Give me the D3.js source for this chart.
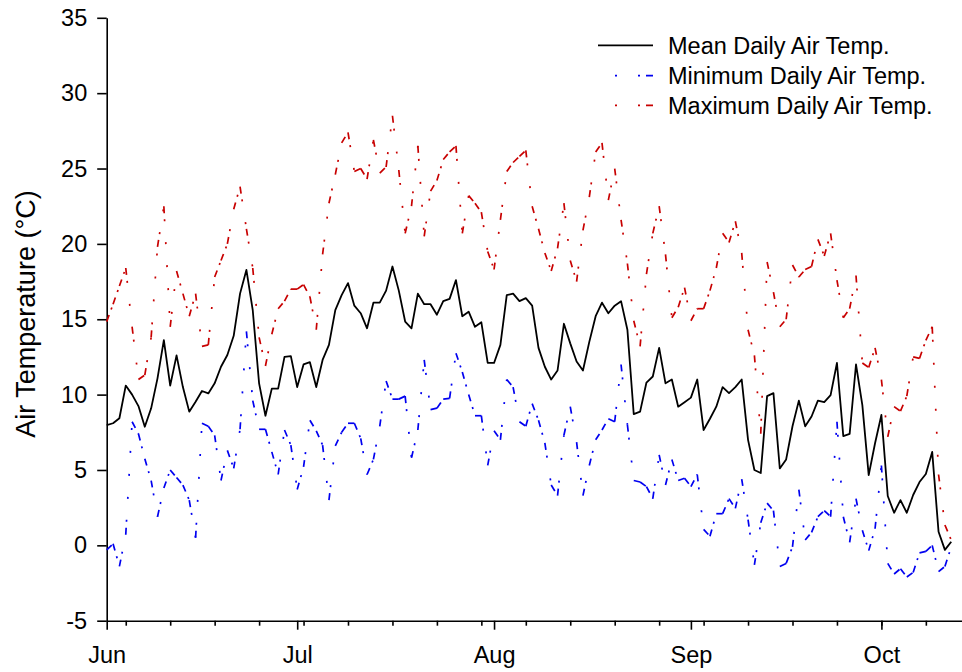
<!DOCTYPE html>
<html><head><meta charset="utf-8">
<script src="https://cdn.jsdelivr.net/npm/d3@7"></script>
<style>
body{margin:0;background:#fff}
svg{display:block}
text{font-family:"Liberation Sans",Arial,sans-serif;fill:#000}
</style>
</head><body>
<svg id="chart" width="962" height="672"></svg>
<script>
// ---- data (daily values from 1 June) ----
const startDate = [2006, 5, 1];
const meanTemp = [7.98,8.1,8.43,10.6,10.0,9.24,7.87,9.09,11.08,13.62,10.6,12.6,10.5,8.87,9.53,10.24,10.08,10.75,11.85,12.63,13.9,16.7,18.27,15.6,10.75,8.6,10.4,10.4,12.5,12.55,
10.5,12.0,12.15,10.5,12.3,13.3,15.6,16.6,17.4,15.9,15.4,14.4,16.1,16.1,16.9,18.5,16.9,14.85,14.4,16.7,16.0,16.0,15.3,16.2,16.35,17.6,15.2,15.5,14.5,14.8,12.1,
12.1,13.3,16.6,16.7,16.2,16.4,15.9,13.1,11.85,11.0,11.6,14.7,13.4,12.2,11.6,13.5,15.2,16.1,15.4,15.9,16.2,14.3,8.7,8.87,10.8,11.2,13.1,10.75,11.0,9.2,9.5,9.8,
11.0,7.65,8.4,9.2,10.5,10.1,10.5,11.0,7.0,5.0,4.8,9.9,10.1,5.1,5.7,7.9,9.6,7.9,8.55,9.6,9.5,9.97,12.1,7.25,7.4,12.0,9.3,4.66,6.77,
8.65,3.27,2.16,3.0,2.16,3.34,4.2,4.73,6.2,0.9,-0.3,0.24];
const minTemp = [-0.3,0.1,-1.4,0.7,8.2,7.4,5.75,4.3,1.9,3.8,5.0,4.5,4.0,3.0,0.5,8.1,7.9,7.3,4.3,6.3,5.1,7.7,14.2,9.6,7.7,7.7,6.2,4.7,7.65,6.65,
3.7,5.2,8.3,7.6,6.65,3.0,6.6,7.5,8.1,8.1,7.1,4.7,5.7,7.9,10.9,9.7,9.7,9.9,5.8,7.65,12.3,9.0,9.1,9.7,9.75,12.75,11.5,10.0,8.6,8.6,5.3,
7.6,7.0,11.0,10.5,8.2,7.9,9.4,8.3,6.8,4.0,3.3,7.3,9.2,6.85,3.3,5.3,7.0,7.65,8.4,8.2,12.0,8.0,4.3,4.2,3.9,3.1,6.0,4.0,5.7,4.3,4.45,3.9,
4.7,1.06,0.6,2.1,2.1,3.1,2.45,4.4,1.7,-1.3,1.5,2.8,2.3,-1.4,-1.2,-0.1,3.7,0.35,0.86,1.9,2.3,1.9,8.2,1.9,0.2,3.1,1.0,-0.35,1.1,
5.3,-1.2,-1.9,-1.55,-2.1,-1.8,-0.5,-0.4,0.0,-1.75,-1.4,-0.1];
const maxTemp = [14.84,16.0,17.2,18.4,14.5,11.0,11.3,13.8,19.8,22.5,14.5,18.2,16.7,15.2,16.7,13.2,13.3,17.8,18.9,20.0,22.3,23.8,21.0,18.4,13.8,11.9,14.0,15.7,16.2,17.0,
17.0,17.3,16.5,14.3,19.3,22.7,24.6,26.7,27.4,24.8,25.0,24.3,26.9,24.7,25.1,28.5,24.9,20.7,22.5,26.5,20.5,23.5,24.2,25.6,26.1,26.5,20.7,23.2,22.7,22.1,19.5,
18.3,21.6,24.8,25.4,25.8,26.2,22.5,21.0,19.4,18.2,19.7,22.7,18.9,17.5,20.9,23.1,26.1,26.7,22.9,25.0,21.6,18.7,14.9,13.2,18.0,20.7,22.5,19.3,15.1,15.8,17.1,14.9,
15.7,15.7,16.9,18.4,20.7,20.1,21.5,19.4,14.3,12.6,7.4,18.8,16.8,14.5,15.0,18.6,17.8,18.3,18.5,20.3,19.2,20.7,17.6,15.1,15.7,17.9,12.1,11.8,13.1,
11.0,7.2,9.2,8.9,9.9,12.5,12.4,13.6,14.5,4.7,1.35,0.35];
const yTicks = [-5,0,5,10,15,20,25,30,35];
const seriesNames = ["Mean Daily Air Temp.","Minimum Daily Air Temp.","Maximum Daily Air Temp."];
const seriesColors = ["#000000","#0000f0","#c80000"];
const yTitle = "Air Temperature (°C)";

// ---- drawing ----
const svg = d3.select("#chart");
const FONT = 23.5;
const t0 = new Date(Date.UTC(startDate[0], startDate[1], startDate[2]));
const tEnd = d3.utcDay.offset(t0, 135);
const dates = meanTemp.map((_, i) => d3.utcDay.offset(t0, i));

const x = d3.scaleUtc().domain([t0, tEnd]).range([106.7, 106.7 + 135 * 6.35]);
const y = d3.scaleLinear().domain([-5, 35]).range([620.7, 17.8]);

// y axis
const gy = svg.append("g").attr("transform", "translate(106.7,0)")
  .call(d3.axisLeft(y).tickValues(yTicks).tickFormat(d => String(d))
    .tickSize(9.5).tickPadding(10).tickSizeOuter(0));
// x axis (months)
const gx = svg.append("g").attr("transform", "translate(0,620.7)")
  .call(d3.axisBottom(x).tickValues(d3.utcMonth.range(t0, tEnd)).tickFormat(d3.utcFormat("%b"))
    .tickSize(9).tickPadding(17).tickSizeOuter(0));
// minor weekly ticks
const gxm = svg.append("g").attr("transform", "translate(0,620.7)")
  .call(d3.axisBottom(x).tickValues(d3.utcWeek.range(t0, tEnd)).tickFormat("").tickSize(5).tickSizeOuter(0));
gxm.select(".domain").remove();
[gy, gx, gxm].forEach(g => {
  g.attr("font-family", null).attr("font-size", null);
  g.selectAll("path,line").attr("stroke", "#000").attr("stroke-width", 1.6);
  g.selectAll("text").style("font-size", FONT + "px").attr("fill", "#000");
});

// y title
svg.append("text")
  .attr("transform", "translate(35,314) rotate(-90)")
  .attr("text-anchor", "middle")
  .style("font-size", "27px")
  .text(yTitle);

// series
const dashPattern = "7,6,2,21,2,21,2,21,2,21,2,21,2,21,2,21,2,21,2,21,2,21";
const line = d3.line().x((d, i) => x(dates[i])).y(d => y(d));

svg.append("path").datum(meanTemp)
  .attr("d", line).attr("fill", "none")
  .attr("stroke", seriesColors[0]).attr("stroke-width", 1.8).attr("stroke-linejoin", "round");

function dashedSeries(values, color) {
  const segs = d3.pairs(values.map((v, i) => [x(dates[i]), y(v)]));
  svg.append("g").selectAll("line").data(segs).join("line")
    .attr("x1", d => d[0][0]).attr("y1", d => d[0][1])
    .attr("x2", d => d[1][0]).attr("y2", d => d[1][1])
    .attr("stroke", color).attr("stroke-width", 1.7)
    .attr("stroke-dasharray", dashPattern);
}
dashedSeries(minTemp, seriesColors[1]);
dashedSeries(maxTemp, seriesColors[2]);

// legend
const legendRows = [45.3, 75.7, 105.3];
const leg = svg.append("g");
seriesNames.forEach((name, i) => {
  const ln = leg.append("line")
    .attr("x1", 653).attr("x2", 598).attr("y1", legendRows[i]).attr("y2", legendRows[i])
    .attr("stroke", seriesColors[i]).attr("stroke-width", i === 0 ? 1.8 : 1.7);
  if (i > 0) ln.attr("stroke-dasharray", dashPattern);
  leg.append("text").attr("x", 668).attr("y", legendRows[i] + 8.6)
    .style("font-size", FONT + "px").text(name);
});
</script>
</body></html>
